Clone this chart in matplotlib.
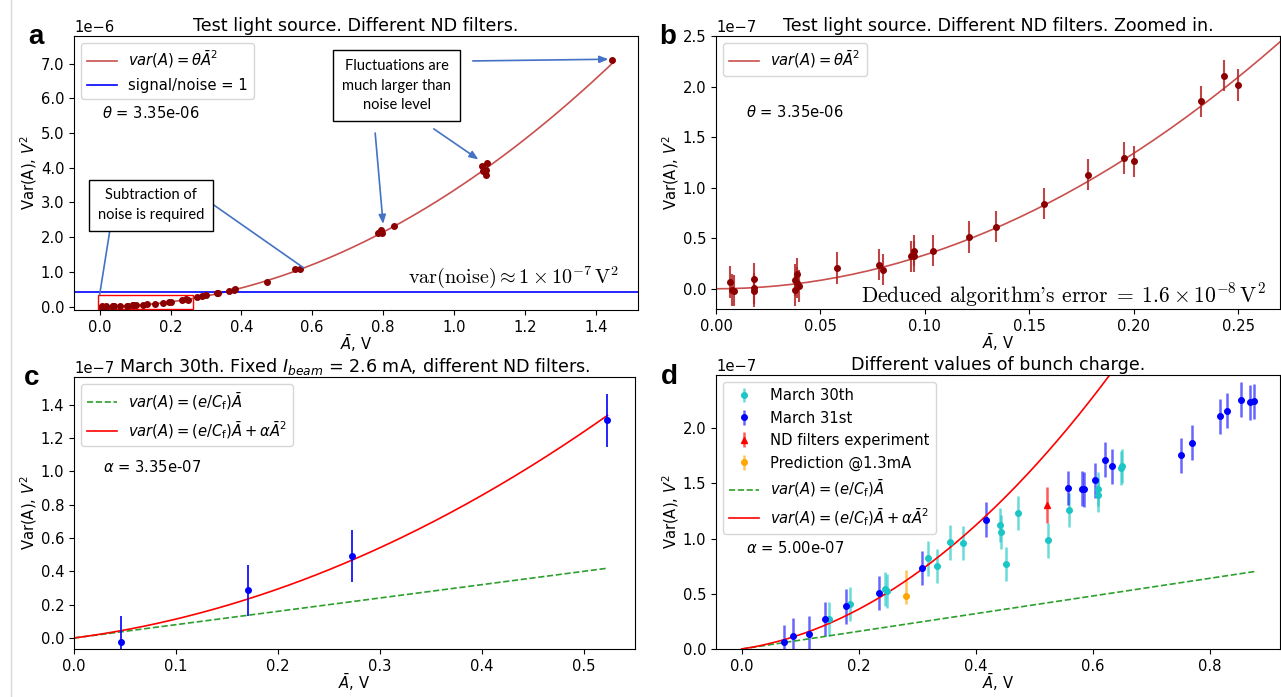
import numpy as np
import matplotlib
matplotlib.use('Agg')
import matplotlib.pyplot as plt
from matplotlib.patches import Rectangle
from matplotlib.lines import Line2D

# ---------------- data ----------------
theta = 3.35e-6          # fit coefficient panels a, b
noise_level = 0.41e-6    # signal/noise = 1 line
e_over_cf = 8.0e-8       # linear coefficient, panels c, d
alpha_c = 3.35e-7
alpha_d = 5.00e-7

# panel a/b: low-amplitude points (y in 1e-7 V^2)
low_x = [0.0066, 0.0078, 0.0086, 0.018, 0.018, 0.018, 0.038, 0.038, 0.0387,
         0.039, 0.0395, 0.0577, 0.078, 0.080, 0.0934, 0.0948, 0.0948, 0.104,
         0.121, 0.134, 0.157, 0.178, 0.1955, 0.200, 0.232, 0.243, 0.250]
low_y = [0.066, -0.013, -0.020, 0.100, 0.003, -0.023, 0.086, -0.013, 0.145,
         0.060, 0.026, 0.207, 0.240, 0.190, 0.322, 0.378, 0.322, 0.378,
         0.513, 0.615, 0.842, 1.128, 1.293, 1.260, 1.855, 2.108, 2.016]
low_err = [0.155, 0.155, 0.155, 0.155, 0.155, 0.155, 0.155, 0.155, 0.155,
           0.155, 0.155, 0.155, 0.155, 0.155, 0.155, 0.155, 0.155, 0.155,
           0.155, 0.155, 0.155, 0.155, 0.155, 0.155, 0.155, 0.155, 0.155]
# panel a: higher-amplitude points (y in 1e-6 V^2)
high_x = [0.274, 0.288, 0.300, 0.331, 0.335, 0.366, 0.378, 0.382, 0.472,
          0.550, 0.566, 0.786, 0.790, 0.793, 0.798, 0.832, 1.079, 1.082,
          1.090, 1.091, 1.093, 1.447]
high_y = [0.27, 0.295, 0.32, 0.39, 0.39, 0.46, 0.49, 0.50, 0.716,
          1.07, 1.07, 2.12, 2.16, 2.20, 2.12, 2.31, 4.06, 3.92,
          3.79, 3.95, 4.15, 7.11]

# panel c (y in 1e-7 V^2)
c_x = [0.0462, 0.1707, 0.273, 0.523]
c_y = [-0.024, 0.285, 0.492, 1.305]
c_err = [0.155, 0.155, 0.157, 0.157]

# panel d (y in 1e-7 V^2)
m30_x = [0.1485, 0.1856, 0.2445, 0.248, 0.318, 0.333, 0.3566, 0.378, 0.4406,
         0.4434, 0.451, 0.472, 0.5226, 0.5597, 0.6095, 0.6095, 0.648, 0.650]
m30_y = [0.271, 0.410, 0.543, 0.522, 0.820, 0.748, 0.965, 0.959, 1.119,
         1.059, 0.769, 1.234, 0.983, 1.261, 1.448, 1.394, 1.638, 1.659]
m30_err = [0.155, 0.155, 0.155, 0.155, 0.155, 0.155, 0.155, 0.155, 0.155,
           0.155, 0.155, 0.155, 0.155, 0.155, 0.155, 0.155, 0.155, 0.155]
m31_x = [0.0729, 0.0883, 0.1156, 0.143, 0.1786, 0.2354, 0.3075, 0.418, 0.5576,
         0.5807, 0.585, 0.6045, 0.6207, 0.633, 0.751, 0.770, 0.818, 0.830,
         0.854, 0.869, 0.876]
m31_y = [0.063, 0.121, 0.139, 0.271, 0.386, 0.507, 0.733, 1.170, 1.457,
         1.451, 1.445, 1.526, 1.713, 1.653, 1.753, 1.867, 2.106, 2.157,
         2.256, 2.232, 2.241]
m31_err = [0.157, 0.157, 0.157, 0.157, 0.157, 0.157, 0.157, 0.157, 0.157,
           0.157, 0.157, 0.157, 0.157, 0.157, 0.157, 0.157, 0.157, 0.157,
           0.157, 0.157, 0.157]
nd_x = [0.522]
nd_y = [1.303]
nd_err = [0.163]
pred_x = [0.280]
pred_y = [0.482]
pred_err_lo = [0.075]
pred_err_hi = [0.232]

# ---------------- figure ----------------
W, H = 1281, 697
fig = plt.figure(figsize=(W / 100, H / 100), dpi=100)

FS = 10.6
TFS = 12.6
plt.rcParams['font.size'] = FS
plt.rcParams['legend.fontsize'] = FS


def px_axes(l, r, t, b):
    return fig.add_axes([l / W, 1 - b / H, (r - l) / W, (b - t) / H])


axa = px_axes(74, 638, 36, 310)
axb = px_axes(716, 1280, 36, 309)
axc = px_axes(74, 635, 377, 649)
axd = px_axes(716, 1280, 375, 649)

for ax in (axa, axb, axc, axd):
    ax.tick_params(labelsize=FS)
    ax.set_xlabel(r'$\bar{A}$, V', fontsize=FS, labelpad=-1)
    ax.set_ylabel(r'Var(A), $V^2$', fontsize=FS, labelpad=1)

curve_col = '#c8504e'
pt_col = '#8b0000'
arrow_col = '#4472c4'
TPAD = 3.5

# ---- panel a ----
xa = np.linspace(0, max(high_x), 300)
axa.plot(xa, theta * xa ** 2, color=curve_col, lw=1.2, label=r'$var(A) = \theta\bar{A}^2$')
axa.axhline(noise_level, color='blue', lw=1.2, label='signal/noise = 1')
axa.plot(low_x, np.array(low_y) * 1e-7, 'o', color=pt_col, ms=4)
axa.plot(high_x, np.array(high_y) * 1e-6, 'o', color=pt_col, ms=4)
axa.set_ylim(-0.1e-6, 7.8e-6)
axa.set_yticks(np.arange(0, 7.5e-6, 1e-6))
axa.yaxis.set_major_formatter(plt.FuncFormatter(lambda v, p: f'{v * 1e6:.1f}'))
axa.text(0.0, 1.005, '1e\u22126', transform=axa.transAxes, fontsize=FS, va='bottom')
axa.set_title('Test light source. Different ND filters.', fontsize=TFS, pad=TPAD)
axa.legend(loc='upper left')
axa.text(0.05, 0.718, r'$\theta$ = 3.35e-06', transform=axa.transAxes, fontsize=FS, va='center')
axa.text(0.966, 0.12, r'$\mathrm{var(noise)} \approx 1\times10^{-7}\,\mathrm{V}^2$',
         transform=axa.transAxes, fontsize=14.5, ha='right', va='center', math_fontfamily='cm')
axa.add_patch(Rectangle((-0.005, -0.07e-6), 0.269, 0.41e-6, fill=False, edgecolor='red', lw=1.0))

box_kw = dict(boxstyle='square,pad=0.6', fc='white', ec='black', lw=1.0)
axa.text(0.137, 0.383, 'Subtraction of\nnoise is required', transform=axa.transAxes,
         ha='center', va='center', fontsize=10.5, family='Lato', bbox=box_kw, linespacing=1.5, zorder=5)
axa.text(0.572, 0.819, 'Fluctuations are\nmuch larger than\nnoise level', transform=axa.transAxes,
         ha='center', va='center', fontsize=10.5, family='Lato', bbox=box_kw, linespacing=1.5, zorder=5)
line_kw = dict(arrowstyle='-', color=arrow_col, lw=1.2, shrinkA=0, shrinkB=0)
head_kw = dict(arrowstyle='-|>,head_length=0.5,head_width=0.2', color=arrow_col, lw=1.2, shrinkA=0, shrinkB=0)
axa.annotate('', xy=(0.0, 0.34e-6), xycoords='data', xytext=(0.064, 0.296), textcoords='axes fraction', arrowprops=line_kw)
axa.annotate('', xy=(0.575, 1.12e-6), xycoords='data', xytext=(0.248, 0.383), textcoords='axes fraction', arrowprops=line_kw)
axa.annotate('', xy=(0.80, 2.38e-6), xycoords='data', xytext=(0.534, 0.646), textcoords='axes fraction', arrowprops=head_kw)
axa.annotate('', xy=(1.069, 4.24e-6), xycoords='data', xytext=(0.638, 0.661), textcoords='axes fraction', arrowprops=head_kw)
axa.annotate('', xy=(1.436, 7.13e-6), xycoords='data', xytext=(0.707, 0.909), textcoords='axes fraction', arrowprops=head_kw)

# ---- panel b ----
xb = np.linspace(0, max(high_x), 400)
axb.plot(xb, theta * xb ** 2, color=curve_col, lw=1.2, label=r'$var(A) = \theta\bar{A}^2$')
axb.errorbar(low_x, np.array(low_y) * 1e-7, yerr=np.array(low_err) * 1e-7, fmt='o', color=pt_col,
             ms=4, elinewidth=1.5, ecolor=(0.7, 0.15, 0.15, 0.85))
axb.set_xlim(0, 0.27)
axb.set_ylim(-0.2e-7, 2.5e-7)
axb.set_yticks(np.arange(0, 2.51e-7, 0.5e-7))
axb.yaxis.set_major_formatter(plt.FuncFormatter(lambda v, p: f'{v * 1e7:.1f}'))
axb.text(0.0, 1.005, '1e\u22127', transform=axb.transAxes, fontsize=FS, va='bottom')
axb.set_title('Test light source. Different ND filters. Zoomed in.', fontsize=TFS, pad=TPAD)
axb.legend(loc='upper left')
axb.text(0.053, 0.72, r'$\theta$ = 3.35e-06', transform=axb.transAxes, fontsize=FS, va='center')
axb.text(0.975, 0.051, "Deduced algorithm's error$\\;=\\;1.6\\times10^{-8}\\,\\mathrm{V}^2$",
         transform=axb.transAxes, fontsize=15.5, ha='right', va='center', family='cmr10', math_fontfamily='cm')

# ---- panel c ----
xc = np.linspace(0, max(c_x), 300)
axc.plot(xc, e_over_cf * xc, '--', color='#2ca02c', lw=1.2, label=r'$var(A) = (e/C_{\rm f})\bar{A}$')
axc.plot(xc, e_over_cf * xc + alpha_c * xc ** 2, '-', color='red', lw=1.2,
         label=r'$var(A) = (e/C_{\rm f})\bar{A} + \alpha\bar{A}^2$')
axc.errorbar(c_x, np.array(c_y) * 1e-7, yerr=np.array(c_err) * 1e-7, fmt='o', color='blue', ms=4, elinewidth=1.2)
axc.set_xlim(0, 0.55)
axc.set_ylim(-0.066e-7, 1.565e-7)
axc.set_yticks(np.arange(0, 1.41e-7, 0.2e-7))
axc.yaxis.set_major_formatter(plt.FuncFormatter(lambda v, p: f'{v * 1e7:.1f}'))
axc.text(0.0, 1.005, '1e\u22127', transform=axc.transAxes, fontsize=FS, va='bottom')
axc.set_title(r'March 30th. Fixed $I_{beam}$ = 2.6 mA, different ND filters.', fontsize=TFS, pad=TPAD)
axc.legend(loc='upper left')
axc.text(0.051, 0.67, r'$\alpha$ = 3.35e-07', transform=axc.transAxes, fontsize=FS, va='center')

# ---- panel d ----
ebkw = dict(ms=4, elinewidth=1.8)
h30 = axd.errorbar(m30_x, np.array(m30_y) * 1e-7, yerr=np.array(m30_err) * 1e-7, fmt='o',
                   color='#1cc6c6', ecolor=(0.11, 0.78, 0.78, 0.65), label='March 30th', **ebkw)
h31 = axd.errorbar(m31_x, np.array(m31_y) * 1e-7, yerr=np.array(m31_err) * 1e-7, fmt='o',
                   color='blue', ecolor=(0, 0, 1, 0.6), label='March 31st', **ebkw)
hnd = axd.errorbar(nd_x, np.array(nd_y) * 1e-7, yerr=np.array(nd_err) * 1e-7, fmt='^',
                   color='red', ecolor=(1, 0, 0, 0.65), label='ND filters experiment', **ebkw)
hpr = axd.errorbar(pred_x, np.array(pred_y) * 1e-7,
                   yerr=[np.array(pred_err_lo) * 1e-7, np.array(pred_err_hi) * 1e-7], fmt='o',
                   color='orange', ecolor=(1, 0.65, 0, 0.65), label='Prediction @1.3mA', **ebkw)
xd = np.linspace(0, max(m31_x), 400)
hg, = axd.plot(xd, e_over_cf * xd, '--', color='#2ca02c', lw=1.2, label=r'$var(A) = (e/C_{\rm f})\bar{A}$')
hr, = axd.plot(xd, e_over_cf * xd + alpha_d * xd ** 2, '-', color='red', lw=1.2,
               label=r'$var(A) = (e/C_{\rm f})\bar{A} + \alpha\bar{A}^2$')
axd.set_ylim(0, 2.48e-7)
axd.set_yticks(np.arange(0, 2.1e-7, 0.5e-7))
axd.yaxis.set_major_formatter(plt.FuncFormatter(lambda v, p: f'{v * 1e7:.1f}'))
axd.text(0.0, 1.005, '1e\u22127', transform=axd.transAxes, fontsize=FS, va='bottom')
axd.set_title('Different values of bunch charge.', fontsize=TFS, pad=TPAD)
axd.legend(handles=[h30, h31, hnd, hpr, hg, hr], loc='upper left')
axd.text(0.053, 0.369, r'$\alpha$ = 5.00e-07', transform=axd.transAxes, fontsize=FS, va='center')

# panel letters
for lab, (x, y) in zip('abcd', [(36, 37), (668, 37), (32, 378), (669, 377)]):
    fig.text(x / W, 1 - y / H, lab, fontsize=20, fontweight='bold', family='Liberation Sans',
             ha='center', va='center')

# thin border line at left
fig.add_artist(Line2D([11 / W, 11 / W], [0, 1], color='#d8d8d8', lw=1.0))

fig.savefig('out.png', dpi=100)
